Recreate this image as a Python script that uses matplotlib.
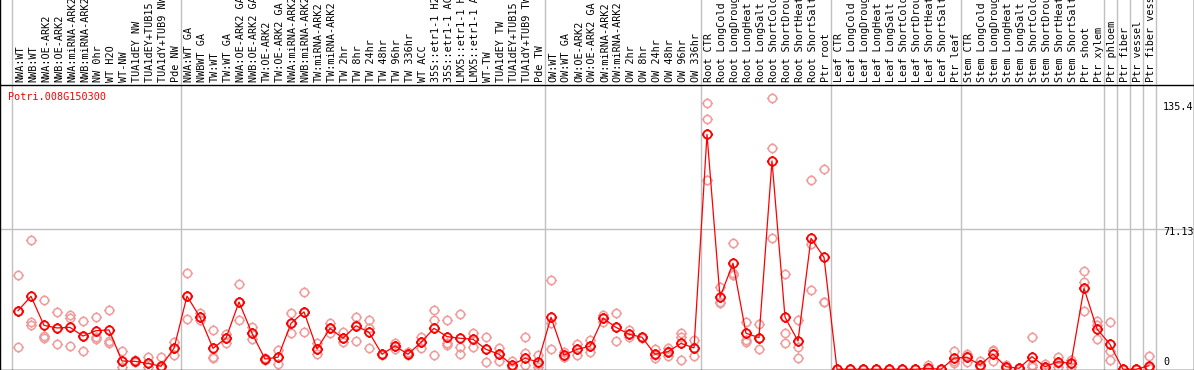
import matplotlib
matplotlib.use('Agg')
import matplotlib.pyplot as plt
from matplotlib.path import Path
from matplotlib.transforms import offset_copy

gene = "Potri.008G150300"

labels = [
    "NWA:WT", "NWB:WT", "NWA:OE-ARK2", "NWB:OE-ARK2", "NWA:miRNA-ARK2", "NWB:miRNA-ARK2",
    "NW 0hr", "WT H2O", "WT-NW", "TUA1dEY NW", "TUA1dEY+TUB15 NW", "TUA1dY+TUB9 NW", "Pde NW",
    "NWA:WT GA", "NWBWT GA", "TW:WT", "TW:WT GA", "NWA:OE-ARK2 GA", "NWB:OE-ARK2 GA",
    "TW:OE-ARK2", "TW:OE-ARK2 GA", "NWA:miRNA-ARK2 GA", "NWB:miRNA-ARK2 GA", "TW:miRNA-ARK2",
    "TW:miRNA-ARK2 GA", "TW 2hr", "TW 8hr", "TW 24hr", "TW 48hr", "TW 96hr", "TW 336hr",
    "WT ACC", "35S::etr1-1 H2O", "35S::etr1-1 ACC", "LMX5::etr1-1 H2O", "LMX5::etr1-1 ACC",
    "WT-TW", "TUA1dEY TW", "TUA1dEY+TUB15 TW", "TUA1dY+TUB9 TW", "Pde TW",
    "OW:WT", "OW:WT GA", "OW:OE-ARK2", "OW:OE-ARK2 GA", "OW:miRNA-ARK2", "OW:miRNA-ARK2 GA",
    "OW 2hr", "OW 8hr", "OW 24hr", "OW 48hr", "OW 96hr", "OW 336hr",
    "Root CTR", "Root LongCold", "Root LongDrought", "Root LongHeat", "Root LongSalt",
    "Root ShortCold", "Root ShortDrought", "Root ShortHeat", "Root ShortSalt", "Ptr root",
    "Leaf CTR", "Leaf LongCold", "Leaf LongDrought", "Leaf LongHeat", "Leaf LongSalt",
    "Leaf ShortCold", "Leaf ShortDrought", "Leaf ShortHeat", "Leaf ShortSalt", "Ptr leaf",
    "Stem CTR", "Stem LongCold", "Stem LongDrought", "Stem LongHeat", "Stem LongSalt",
    "Stem ShortCold", "Stem ShortDrought", "Stem ShortHeat", "Stem ShortSalt", "Ptr shoot",
    "Ptr xylem", "Ptr phloem", "Ptr fiber", "Ptr vessel", "Ptr fiber vessel",
]

means = [
    29.6, 36.9, 22.2, 20.9, 21.2, 16.8, 19.5, 19.9, 4.2, 4.0, 3.0, 1.5, 10.6,
    37.0, 26.3, 10.6, 15.7, 34.0, 18.2, 5.2, 6.1, 23.2, 29.0, 10.3, 20.7, 15.7,
    22.0, 18.7, 7.6, 11.8, 7.6, 13.6, 20.7, 16.5, 15.7, 15.2, 10.1, 7.6, 2.2, 5.6, 3.7,
    26.3, 7.1, 10.1, 11.6, 25.8, 21.2, 17.7, 16.2, 7.6, 8.9, 13.1, 10.8,
    118.7, 36.4, 53.6, 18.2, 16.0, 105.3, 26.3, 14.3, 66.2, 56.6,
    0.0, 0.0, 0.0, 0.0, 0.0, 0.0, 0.0, 0.5, 0.0, 5.6,
    6.1, 2.2, 7.7, 1.3, 0.5, 6.4, 1.3, 3.8, 3.0, 40.9,
    20.4, 12.6, 0.0, 0.0, 1.8,
]

replicates = [
    [47.6, 11.3, 29.6], [65.3, 24.1, 22.4], [35.0, 16.8, 15.7], [28.8, 12.6, 20.9],
    [27.4, 26.1, 11.8], [24.4, 9.2, 16.8], [26.4, 16.5, 15.5], [30.0, 14.5, 13.4],
    [9.2, 1.3, 4.2], [3.5, 4.5, 4.0], [6.4, 1.3, 3.2], [6.1, 1.3, 0.7], [13.6, 7.2, 10.8],
    [48.7, 25.3, 37.0], [28.3, 26.3, 24.9], [19.9, 5.9, 6.2], [17.8, 13.1, 15.8],
    [43.1, 24.9, 34.0], [21.2, 15.2, 18.3], [4.7, 5.7, 5.2], [9.8, 2.5, 6.2],
    [28.3, 18.2, 23.4], [38.9, 18.7, 29.0], [13.1, 7.7, 10.3], [23.5, 18.5, 20.9],
    [18.7, 13.9, 15.8], [26.3, 14.3, 22.4], [24.9, 20.9, 10.8], [7.7, 7.2, 7.7],
    [13.1, 10.1, 11.8], [8.9, 7.2, 7.7], [16.5, 10.6, 13.8], [30.0, 24.9, 7.1],
    [24.9, 13.1, 12.3], [27.9, 11.1, 7.6], [18.5, 11.1, 15.3], [16.5, 3.5, 10.3],
    [10.6, 4.2, 7.7], [4.2, 1.3, 1.2], [16.3, 8.4, 2.2], [7.2, 1.3, 2.7],
    [45.0, 23.2, 10.3], [8.9, 6.1, 6.2], [12.8, 7.2, 10.3], [14.8, 8.6, 11.8],
    [27.4, 23.9, 25.9], [28.4, 14.3, 21.4], [19.9, 16.2, 17.8], [16.5, 15.8, 16.3],
    [10.1, 5.6, 7.2], [10.6, 6.7, 9.2], [18.2, 16.5, 4.7], [14.8, 6.7, 10.8],
    [134.4, 126.3, 95.7], [41.4, 34.2, 33.5], [63.7, 48.5, 47.6], [23.7, 14.8, 13.9],
    [22.9, 10.1, 15.8], [136.9, 111.7, 66.2], [48.0, 18.2, 13.1], [24.9, 11.4, 5.6],
    [95.7, 63.2, 40.1], [101.1, 34.2, 33.9],
    [0.0, 0.0, 0.0], [0.0, 0.0, 0.0], [0.0, 0.0, 0.0], [0.0, 0.0, 0.0], [0.0, 0.0, 0.0],
    [0.0, 0.0, 0.0], [0.0, 0.0, 0.0], [2.2, 0.0, 0.0], [0.0, 0.0, 0.0], [9.2, 4.2, 3.0],
    [7.6, 3.8, 6.7], [4.2, 1.2, 1.7], [9.8, 4.3, 9.0], [2.2, 0.7, 1.2], [0.7, 0.2, 0.7],
    [16.2, 2.2, 1.3], [2.7, 0.7, 1.2], [6.4, 1.3, 3.2], [4.7, 1.3, 2.7], [49.7, 44.0, 29.5],
    [24.6, 15.3, 22.4], [23.7, 9.4, 4.7], [0.0, 0.0, 0.0], [0.0, 0.0, 0.0], [6.7, 0.7, 1.2],
]

group_edges = [-0.5, 12.5, 40.5, 52.5, 62.5, 72.5, 83.5, 84.5, 85.5, 86.5, 87.5]
ytick_vals = [135.4, 71.13, 0]
ytick_labels = ["135.4", "71.13", "0"]

# ---- layout ----
W, H = 1194, 370
HEAD = 85
fig = plt.figure(figsize=(W / 100, H / 100), dpi=100)
ax = fig.add_axes([0, 0, 1, (H - HEAD) / H])
axh = fig.add_axes([0, (H - HEAD) / H, 1, HEAD / H])

x0, step = 18.0, 13.0
xlim = (-x0 / step, (W - x0) / step)
for a in (ax, axh):
    a.set_xlim(xlim)
    a.set_xticks([])
    a.set_yticks([])
    a.patch.set_alpha(0)

ppu = 1.979  # pixels per unit
zero_off = 0.7
ax.set_ylim(-zero_off / ppu, (H - HEAD - zero_off) / ppu)
axh.set_ylim(HEAD, 0)

grey = '#c0c0c0'
for e in group_edges:
    ax.axvline(e, color=grey, lw=1.0, zorder=0)
    axh.axvline(e, color=grey, lw=1.0, zorder=0)
ax.axhline(ytick_vals[1], color=grey, lw=1.0, zorder=0)

# marker: circle with small ticks
tick = 1.3
circ = Path.unit_circle()
segs = Path([(0, 1), (0, tick), (0, -1), (0, -tick), (1, 0), (tick, 0), (-1, 0), (-tick, 0)],
            [Path.MOVETO, Path.LINETO] * 4)
mk = Path.make_compound_path(circ, segs)

xs = list(range(len(means)))
rx, ry = [], []
for i, r in enumerate(replicates):
    for v in r:
        rx.append(i)
        ry.append(v)
ax.plot(rx, ry, linestyle='none', marker=mk, markersize=7.6, markerfacecolor='none',
        markeredgecolor='#f09a9a', markeredgewidth=1.1, zorder=2)
ax.plot(xs, means, color='red', lw=0.9, zorder=3)
ax.plot(xs, means, linestyle='none', marker=mk, markersize=7.8, markerfacecolor='none',
        markeredgecolor='red', markeredgewidth=1.3, zorder=4)

font = dict(family='DejaVu Sans Mono', fontsize=7.3)

for i, lab in enumerate(labels):
    axh.text(i + 0.15, 82.5, lab, rotation=90, ha='center', va='bottom', color='black', **font)

fig.text(8 / W, 1 - 97 / H, gene, color='red', ha='left', va='center', **font)

offsets = [-5.5, -3.5, 7.0]
for v, lab, off in zip(ytick_vals, ytick_labels, offsets):
    tr = offset_copy(ax.transData, fig=fig, x=0, y=off, units='dots')
    ax.text((1163 - x0) / step, v, lab, transform=tr, ha='left', va='center', color='black', **font)

for s in ('left', 'right', 'bottom', 'top'):
    ax.spines[s].set_color('black')
    ax.spines[s].set_linewidth(1.0)
for s in ('left', 'right'):
    axh.spines[s].set_color('black')
    axh.spines[s].set_linewidth(1.0)
axh.spines['top'].set_visible(False)
axh.spines['bottom'].set_visible(False)

fig.savefig('out.png', dpi=100, facecolor='white')
